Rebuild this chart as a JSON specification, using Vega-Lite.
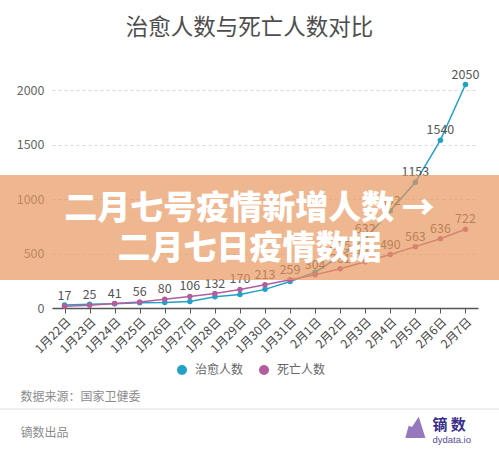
{
  "$schema": "https://vega.github.io/schema/vega-lite/v6.json",
  "width": 499,
  "height": 218,
  "autosize": {"type": "none"},
  "padding": {"top": 90, "left": 0, "right": 0, "bottom": 149},
  "background": "white",
  "config": {
    "font": "Noto Sans CJK SC",
    "view": {"stroke": null},
    "axisX": {
      "title": "数据来源：国家卫健委",
      "titleX": 20,
      "titleY": 88,
      "titleAlign": "left",
      "titleBaseline": "middle",
      "titleAngle": 0,
      "titleFontSize": 12,
      "titleFontWeight": "normal",
      "titleColor": "#8c8c8c",
      "labelAngle": -45,
      "labelFontSize": 12,
      "labelColor": "#444444",
      "labelPadding": 3,
      "domainColor": "#555555",
      "domainWidth": 1.5,
      "tickColor": "#555555",
      "tickSize": 5,
      "grid": false
    },
    "axisY": {
      "titleX": 20,
      "titleY": 342,
      "titleAngle": 0,
      "titleAlign": "left",
      "titleBaseline": "middle",
      "titleFontSize": 12,
      "titleFontWeight": "normal",
      "titleColor": "#8c8c8c",
      "labelPadding": -44,
      "labelFontSize": 12.5,
      "labelColor": "#666666",
      "ticks": false,
      "domain": false,
      "grid": true,
      "gridColor": "#d9d9d9",
      "gridDash": [3, 3],
      "gridWidth": 1
    }
  },
  "title": {
    "text": "治愈人数与死亡人数对比",
    "fontSize": 22.5,
    "fontWeight": "normal",
    "color": "#4d4d4d",
    "anchor": "middle",
    "frame": "group",
    "offset": 29
  },
  "datasets": {
    "main": [
      {"date": "1月22日", "series": "治愈人数", "value": 28},
      {"date": "1月23日", "series": "治愈人数", "value": 34},
      {"date": "1月24日", "series": "治愈人数", "value": 38},
      {"date": "1月25日", "series": "治愈人数", "value": 49},
      {"date": "1月26日", "series": "治愈人数", "value": 51},
      {"date": "1月27日", "series": "治愈人数", "value": 60},
      {"date": "1月28日", "series": "治愈人数", "value": 103},
      {"date": "1月29日", "series": "治愈人数", "value": 124},
      {"date": "1月30日", "series": "治愈人数", "value": 171},
      {"date": "1月31日", "series": "治愈人数", "value": 243},
      {"date": "2月1日", "series": "治愈人数", "value": 328},
      {"date": "2月2日", "series": "治愈人数", "value": 475},
      {"date": "2月3日", "series": "治愈人数", "value": 632},
      {"date": "2月4日", "series": "治愈人数", "value": 892},
      {"date": "2月5日", "series": "治愈人数", "value": 1153},
      {"date": "2月6日", "series": "治愈人数", "value": 1540},
      {"date": "2月7日", "series": "治愈人数", "value": 2050},
      {"date": "1月22日", "series": "死亡人数", "value": 17},
      {"date": "1月23日", "series": "死亡人数", "value": 25},
      {"date": "1月24日", "series": "死亡人数", "value": 41},
      {"date": "1月25日", "series": "死亡人数", "value": 56},
      {"date": "1月26日", "series": "死亡人数", "value": 80},
      {"date": "1月27日", "series": "死亡人数", "value": 106},
      {"date": "1月28日", "series": "死亡人数", "value": 132},
      {"date": "1月29日", "series": "死亡人数", "value": 170},
      {"date": "1月30日", "series": "死亡人数", "value": 213},
      {"date": "1月31日", "series": "死亡人数", "value": 259},
      {"date": "2月1日", "series": "死亡人数", "value": 304},
      {"date": "2月2日", "series": "死亡人数", "value": 361},
      {"date": "2月3日", "series": "死亡人数", "value": 425},
      {"date": "2月4日", "series": "死亡人数", "value": 490},
      {"date": "2月5日", "series": "死亡人数", "value": 563},
      {"date": "2月6日", "series": "死亡人数", "value": 636},
      {"date": "2月7日", "series": "死亡人数", "value": 722}
    ],
    "one": [{"k": 1}]
  },
  "layer": [
    {
      "data": {"name": "main"},
      "mark": {"type": "line", "strokeWidth": 1.5},
      "encoding": {
        "x": {"field": "date", "type": "nominal", "sort": null, "scale": {"type": "point", "range": [52, 478], "padding": 0.5}, "axis": {"title": "数据来源：国家卫健委"}},
        "y": {"field": "value", "type": "quantitative", "scale": {"domain": [0, 2000], "nice": false}, "axis": {"values": [0, 500, 1000, 1500, 2000], "format": "d", "title": "镝数出品"}},
        "color": {
          "field": "series",
          "type": "nominal",
          "scale": {"domain": ["治愈人数", "死亡人数"], "range": ["#22a1c8", "#b45d9d"]},
          "legend": {
            "title": null,
            "orient": "none",
            "direction": "horizontal",
            "legendX": 176,
            "legendY": 274,
            "padding": 0,
            "symbolType": "circle",
            "symbolSize": 100,
            "symbolStrokeWidth": 0,
            "labelFontSize": 12,
            "labelColor": "#666666",
            "labelOffset": 7,
            "columnPadding": 14
          }
        }
      }
    },
    {
      "data": {"name": "main"},
      "mark": {"type": "point", "filled": true, "size": 30, "opacity": 1},
      "encoding": {
        "x": {"field": "date", "type": "nominal", "sort": null},
        "y": {"field": "value", "type": "quantitative"},
        "color": {"field": "series", "type": "nominal"}
      }
    },
    {
      "data": {"name": "main"},
      "transform": [{"filter": "datum.series === '死亡人数'"}],
      "mark": {"type": "text", "dy": -3, "fontSize": 12.5, "color": "#555555", "baseline": "bottom"},
      "encoding": {
        "x": {"field": "date", "type": "nominal", "sort": null},
        "y": {"field": "value", "type": "quantitative"},
        "text": {"field": "value", "type": "quantitative"}
      }
    },
    {
      "data": {"name": "main"},
      "transform": [
        {"filter": "datum.series === '治愈人数'"},
        {"filter": {"field": "date", "oneOf": ["2月2日", "2月3日", "2月4日", "2月5日", "2月6日", "2月7日"]}}
      ],
      "mark": {"type": "text", "dy": -3, "fontSize": 12.5, "color": "#555555", "baseline": "bottom"},
      "encoding": {
        "x": {"field": "date", "type": "nominal", "sort": null},
        "y": {"field": "value", "type": "quantitative"},
        "text": {"field": "value", "type": "quantitative"}
      }
    },
    {
      "data": {"name": "one"},
      "mark": {"type": "rect", "color": "#e8955a", "opacity": 0.68},
      "encoding": {"y": {"datum": 1220}, "y2": {"datum": 257}}
    },
    {
      "data": {"name": "one"},
      "mark": {
        "type": "text",
        "text": ["二月七号疫情新增人数 →", "二月七日疫情数据"],
        "fontSize": 33,
        "fontWeight": 900,
        "color": "white",
        "lineHeight": 40,
        "align": "center",
        "baseline": "middle"
      },
      "encoding": {"y": {"datum": 908}}
    },
    {
      "data": {"name": "one"},
      "mark": {"type": "rule", "color": "#dddddd", "strokeWidth": 1},
      "encoding": {"y": {"datum": -927}}
    },
    {
      "data": {"name": "one"},
      "mark": {
        "type": "point",
        "filled": true,
        "size": 500,
        "shape": "M-0.9,0.9 L-0.6,-0.2 L-0.3,-0.1 L0.3,-1 L0.9,0.9 Z",
        "color": "#6a3fa3",
        "dx": 6
      },
      "encoding": {"x": {"datum": "2月5日"}, "y": {"datum": -1101}}
    },
    {
      "data": {"name": "one"},
      "mark": {"type": "text", "text": "镝 数", "fontSize": 15, "fontWeight": "bold", "color": "#3a2f8c", "align": "left", "baseline": "middle", "dx": -8},
      "encoding": {"x": {"datum": "2月6日"}, "y": {"datum": -1073}}
    },
    {
      "data": {"name": "one"},
      "mark": {"type": "text", "text": "dydata.io", "fontSize": 9.5, "font": "Liberation Sans", "color": "#5a4a9a", "align": "left", "baseline": "middle", "dx": -8},
      "encoding": {"x": {"datum": "2月6日"}, "y": {"datum": -1211}}
    }
  ]
}
